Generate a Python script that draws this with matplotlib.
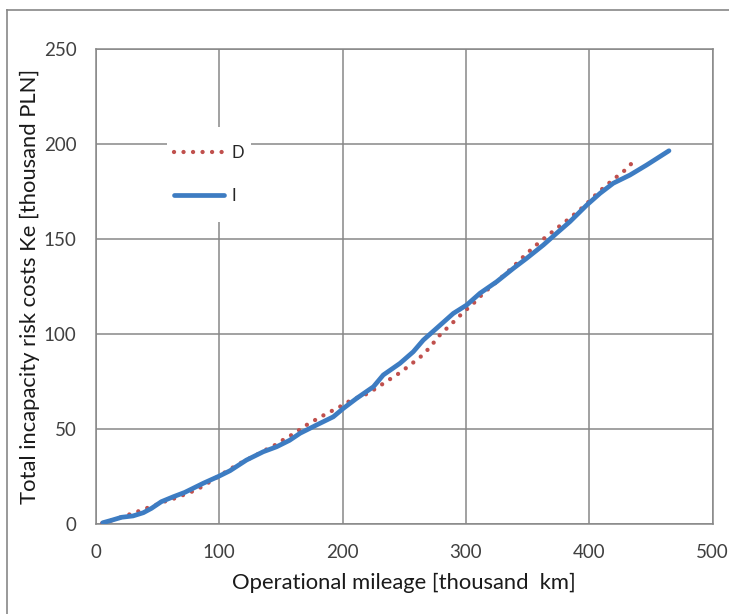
import matplotlib
matplotlib.use("Agg")
import matplotlib.pyplot as plt
from matplotlib.lines import Line2D
from matplotlib.patches import Rectangle

# Operational mileage [thousand km] vs total incapacity risk costs [thousand PLN]
d_mileage = [5, 15, 28, 35, 42, 50, 57, 64, 79, 86, 100, 115, 130, 140, 147, 153,
             160, 172, 186, 199, 206, 221, 234, 247, 259, 265, 270, 275, 280, 286,
             297, 303, 309, 314, 320, 337, 348, 360, 372, 384, 396, 407, 419, 431, 436]
d_cost = [0.5, 2.5, 5.4, 7.0, 8.7, 10.5, 12.3, 13.7, 17.5, 19.8, 25.5, 31.5, 36.5, 40.0,
          42.3, 45.0, 47.5, 52.8, 57.9, 62.3, 65.0, 69.0, 74.5, 80.0, 86.0, 89.1, 92.6,
          96.5, 100.5, 104.0, 111.0, 114.5, 118.0, 121.6, 124.8, 134.7, 141.7, 148.7,
          154.9, 161.0, 167.5, 174.5, 181.2, 187.4, 191.2]

i_mileage = [5.4, 12, 20.8, 30, 38.4, 45, 53, 62.7, 72, 87, 100, 108.7, 122, 135.7,
             146.5, 157, 165.5, 179, 192.5, 200.6, 211.4, 225, 233, 246.5, 257.3, 265.5,
             276.3, 289.8, 300.6, 311.4, 325, 338.5, 349.3, 362.8, 373.6, 384.4, 398,
             408.8, 419.5, 433, 446.6, 464.7]
i_cost = [0.8, 2.0, 3.7, 4.4, 6.1, 8.4, 11.9, 14.5, 16.8, 21.6, 25.4, 28.2, 33.8, 38.2,
          40.8, 44.2, 47.9, 52.3, 56.6, 61.0, 66.3, 72.4, 78.6, 84.7, 90.8, 97.0, 103.2,
          111.0, 115.4, 121.6, 127.7, 134.7, 140.0, 147.0, 153.2, 159.3, 168.0, 174.2,
          179.5, 183.8, 189.1, 196.6]

series_labels = ["D", "I"]
x_ticks = [0, 100, 200, 300, 400, 500]
y_ticks = [0, 50, 100, 150, 200, 250]

RED = "#C0504D"
BLUE = "#3D7CC2"
GRID = "#878787"
DOTS = (0, (0.01, 2.2))

plt.rcParams["font.family"] = ["Lato", "DejaVu Sans"]

W, H = 729, 614
AX_L, AX_R, AX_T, AX_B = 96, 712.5, 49.3, 524.3
fig = plt.figure(figsize=(W / 100, H / 100), dpi=100)
ax = fig.add_axes([AX_L / W, 1 - AX_B / H, (AX_R - AX_L) / W, (AX_B - AX_T) / H])


def ax_xy(px, py):
    """Pixel position in the figure -> axes fraction."""
    return (px - AX_L) / (AX_R - AX_L), (AX_B - py) / (AX_B - AX_T)


ax.plot(d_mileage, d_cost, color=RED, lw=3.1, linestyle=DOTS,
        dash_capstyle="round", label=series_labels[0], zorder=3)
ax.plot(i_mileage, i_cost, color=BLUE, lw=3.4, solid_capstyle="round",
        solid_joinstyle="round", label=series_labels[1], zorder=4)

ax.set_xlim(0, 500)
ax.set_ylim(0, 250)
ax.set_xticks(x_ticks)
ax.set_yticks(y_ticks)
ax.grid(True, color=GRID, lw=1.1)
ax.set_axisbelow(True)
for s in ax.spines.values():
    s.set_color(GRID)
    s.set_linewidth(1.1)
ax.tick_params(length=0, labelsize=13.5, colors="#404040")
ax.tick_params(axis="x", pad=14)
ax.tick_params(axis="y", pad=14)

ax.set_xlabel("Operational mileage [thousand  km]", fontsize=15.8, color="#1a1a1a", labelpad=9)
ax.set_ylabel("Total incapacity risk costs Ke [thousand PLN]", fontsize=15.8,
              color="#1a1a1a", labelpad=3)

# white legend area that hides the gridlines behind it
x0, y1 = ax_xy(167, 222)
x1, y0 = ax_xy(251, 127)
ax.add_patch(Rectangle((x0, y1), x1 - x0, y0 - y1, transform=ax.transAxes,
                       facecolor="white", edgecolor="none", zorder=2.5))

handles = [Line2D([], [], color=RED, lw=3.1, linestyle=DOTS, dash_capstyle="round"),
           Line2D([], [], color=BLUE, lw=3.4, solid_capstyle="round")]
lx, ly = ax_xy(174, 174.5)
leg = ax.legend(handles, series_labels, loc="center left", bbox_to_anchor=(lx, ly),
                frameon=False, fontsize=12, handlelength=3.0, handletextpad=0.45,
                labelspacing=1.62, borderpad=0, borderaxespad=0)
for t in leg.get_texts():
    t.set_color("#262626")

# outer chart-area border
fig.add_artist(Line2D([7 / W, 1], [1 - 10 / H, 1 - 10 / H], color=GRID, lw=1.2,
                      transform=fig.transFigure))
fig.add_artist(Line2D([7 / W, 7 / W], [0, 1 - 10 / H], color=GRID, lw=1.2,
                      transform=fig.transFigure))

fig.savefig("out.png", dpi=100, facecolor="white")
